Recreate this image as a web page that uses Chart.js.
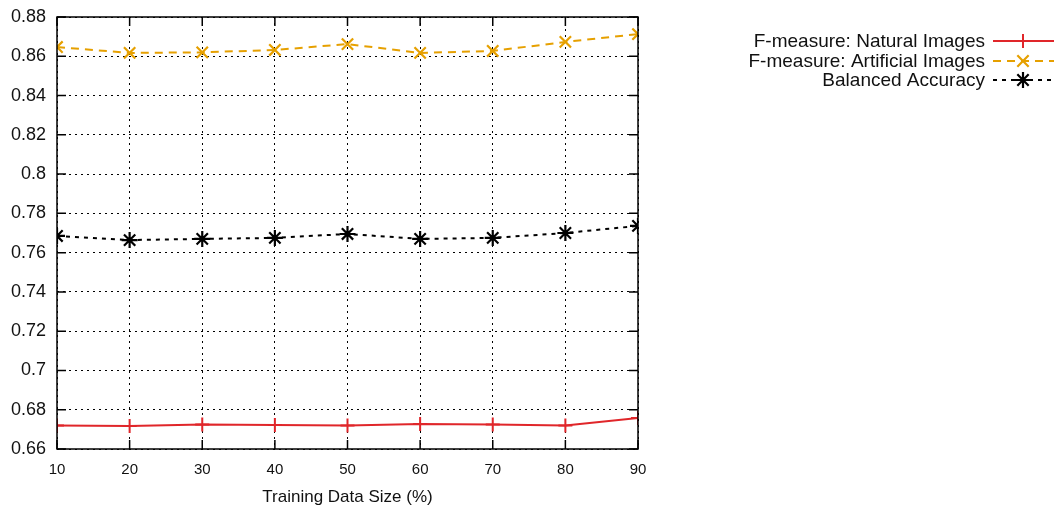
<!DOCTYPE html>
<html>
<head>
<meta charset="utf-8">
<script src="https://cdn.jsdelivr.net/npm/chart.js@4/dist/chart.umd.min.js"></script>
<style>
  html, body { margin: 0; padding: 0; background: #fff; }
  canvas { display: block; }
</style>
</head>
<body>
<canvas id="grafico" width="1054" height="508"></canvas>
<script>
// ========== DADOS ==========
const trainSizes = [10, 20, 30, 40, 50, 60, 70, 80, 90];
const fNatural = [0.6720, 0.6717, 0.6725, 0.6722, 0.6720, 0.6727, 0.6725, 0.6720, 0.6758];
const fArtificial = [0.8647, 0.8617, 0.8620, 0.8632, 0.8662, 0.8617, 0.8627, 0.8673, 0.8713];
const balancedAcc = [0.7685, 0.7664, 0.7670, 0.7675, 0.7695, 0.7670, 0.7675, 0.7700, 0.7736];
const yTicks = [0.66, 0.68, 0.7, 0.72, 0.74, 0.76, 0.78, 0.8, 0.82, 0.84, 0.86, 0.88];
const seriesNames = ['F-measure: Natural Images', 'F-measure: Artificial Images', 'Balanced Accuracy'];

const FONT = 'Liberation Sans, Arial, Helvetica, sans-serif';

function pontos(valores) {
  return trainSizes.map((x, i) => ({ x: x, y: valores[i] }));
}

// ticks para dentro em todos os lados (estilo gnuplot)
const ticksInternos = {
  id: 'ticksInternos',
  afterDraw(chart) {
    const { ctx, chartArea: a, scales } = chart;
    const len = 9;
    ctx.save();
    ctx.strokeStyle = '#000';
    ctx.lineWidth = 1.5;
    ctx.beginPath();
    trainSizes.forEach(v => {
      const x = scales.x.getPixelForValue(v);
      ctx.moveTo(x, a.bottom); ctx.lineTo(x, a.bottom - len);
      ctx.moveTo(x, a.top); ctx.lineTo(x, a.top + len);
    });
    yTicks.forEach(v => {
      const y = scales.y.getPixelForValue(v);
      ctx.moveTo(a.left, y); ctx.lineTo(a.left + len, y);
      ctx.moveTo(a.right, y); ctx.lineTo(a.right - len, y);
    });
    ctx.stroke();
    ctx.strokeRect(a.left, a.top, a.right - a.left, a.bottom - a.top);
    ctx.restore();
  }
};

// legenda: texto à esquerda, amostra da linha à direita
const legendaDireita = {
  id: 'legendaDireita',
  afterDraw(chart) {
    const { ctx } = chart;
    const textoX = 985, linhaX0 = 993, linhaX1 = 1054, marcaX = 1023;
    const ys = [41, 61, 80];
    ctx.save();
    chart.data.datasets.forEach((ds, i) => {
      const y = ys[i];
      ctx.font = '19px ' + FONT;
      ctx.fillStyle = '#111';
      ctx.textAlign = 'right';
      ctx.textBaseline = 'middle';
      ctx.fillText(ds.label, textoX, y + 1);
      ctx.strokeStyle = ds.borderColor;
      ctx.lineWidth = ds.borderWidth;
      ctx.setLineDash(ds.borderDash || []);
      ctx.beginPath();
      ctx.moveTo(linhaX0, y); ctx.lineTo(linhaX1, y);
      ctx.stroke();
      ctx.setLineDash([]);
      ctx.lineWidth = ds.pointBorderWidth;
      Chart.helpers.drawPoint(ctx, {
        pointStyle: ds.pointStyle, radius: ds.pointRadius, borderWidth: ds.pointBorderWidth
      }, marcaX, y);
    });
    ctx.restore();
  }
};

const canvas = document.getElementById('grafico');
new Chart(canvas.getContext('2d'), {
  type: 'line',
  data: {
    datasets: [
      {
        label: seriesNames[0], data: pontos(fNatural),
        borderColor: '#e0262a', backgroundColor: '#e0262a', borderWidth: 2,
        pointStyle: 'cross', pointRadius: 7, pointBorderWidth: 2
      },
      {
        label: seriesNames[1], data: pontos(fArtificial),
        borderColor: '#e6a000', backgroundColor: '#e6a000', borderWidth: 2, borderDash: [8, 6],
        pointStyle: 'crossRot', pointRadius: 8, pointBorderWidth: 2.2
      },
      {
        label: seriesNames[2], data: pontos(balancedAcc),
        borderColor: '#000', backgroundColor: '#000', borderWidth: 2, borderDash: [4, 5],
        pointStyle: 'star', pointRadius: 8, pointBorderWidth: 2.2
      }
    ]
  },
  options: {
    responsive: false,
    animation: false,
    devicePixelRatio: 1,
    layout: { padding: { top: 17, right: 416, left: 0, bottom: 0 } },
    elements: { line: { tension: 0, fill: false } },
    plugins: { legend: { display: false }, tooltip: { enabled: false } },
    scales: {
      x: {
        type: 'linear', min: 10, max: 90,
        afterFit: s => { s.height = 59; s.paddingLeft = 0; s.paddingRight = 0; },
        afterBuildTicks: s => { s.ticks = trainSizes.map(v => ({ value: v })); },
        grid: { color: '#000', lineWidth: 1, drawTicks: false },
        border: { display: false, dash: [2, 4] },
        ticks: { color: '#111', font: { family: FONT, size: 15 }, padding: 12, maxRotation: 0 },
        title: { display: true, text: 'Training Data Size (%)', color: '#111',
                 font: { family: FONT, size: 17 }, padding: { top: 4, bottom: 0 } }
      },
      y: {
        min: 0.66, max: 0.88,
        afterFit: s => { s.width = 57; s.paddingTop = 0; s.paddingBottom = 0; },
        afterBuildTicks: s => { s.ticks = yTicks.map(v => ({ value: v })); },
        grid: { color: '#000', lineWidth: 1, drawTicks: false },
        border: { display: false, dash: [2, 4] },
        ticks: { color: '#111', font: { family: FONT, size: 18 }, padding: 11,
                 callback: v => String(Number(v.toFixed(2))) }
      }
    }
  },
  plugins: [ticksInternos, legendaDireita]
});
</script>
</body>
</html>
